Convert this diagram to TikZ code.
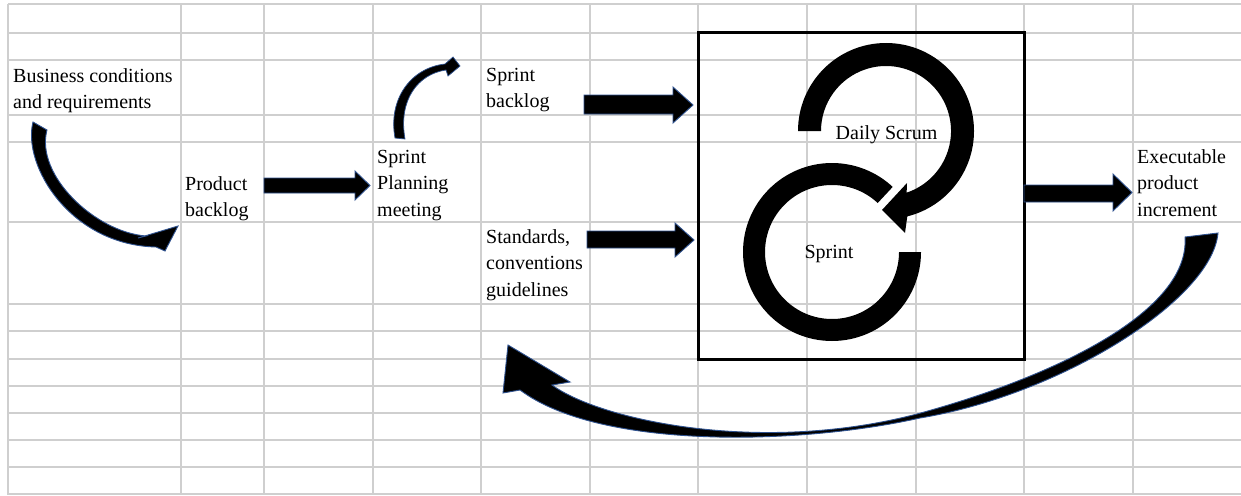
\documentclass[tikz,border=0pt]{standalone}
\usepackage{fontspec}
\setmainfont{Liberation Serif}
\begin{document}
\begin{tikzpicture}[x=1pt,y=-1pt,
  gridline/.style={draw=gray!38,line width=1.4pt},
  lbl/.style={anchor=north west,inner sep=0pt,align=left,font=\fontsize{20}{26.5}\selectfont},
  clbl/.style={anchor=base,inner sep=0pt,font=\fontsize{20}{26.5}\selectfont},
  blockarrow/.style={fill=black,draw={rgb,255:red,47;green,82;blue,143},line width=0.9pt,line join=miter},
  ring/.style={fill=black}]
\useasboundingbox (0,0) rectangle (1241,495);
\fill[white] (0,0) rectangle (1241,495);
% spreadsheet grid
\foreach \gx in {8,181,264,373,481,590,698,807,916,1024,1133}
  \draw[gridline] (\gx,4) -- (\gx,495);
\foreach \gy in {4,33,60,115,142,222,304,331,359,386,413,440,467,494}
  \draw[gridline] (8,\gy) -- (1241,\gy);
% sprint box
\draw[line width=3pt] (698,33) rectangle (1024,359);
% Daily Scrum ring with arrow head
\fill[ring] ([shift={(886,131)}]180:88) arc[start angle=180,end angle=436,radius=88]
  -- (905,233) -- (882,210) -- (907,183)
  -- ([shift={(886,131)}]431.5:65) arc[start angle=431.5,end angle=180,radius=65] -- cycle;
% Sprint ring
\fill[ring] ([shift={(832,252)}]0:89) arc[start angle=0,end angle=313,radius=89]
  -- ([shift={(832,252)}]313:67) arc[start angle=313,end angle=0,radius=67] -- cycle;
% texts
\node[lbl] (bus) at (13,68) {Business conditions\\and requirements};
\node[lbl] (pb) at (185,176) {Product\\backlog};
\node[lbl] (spm) at (377,150) {Sprint\\Planning\\meeting};
\node[lbl] (sb) at (486,68) {Sprint\\backlog};
\node[lbl] (std) at (486,229) {Standards,\\conventions\\guidelines};
\node[lbl] (exe) at (1137,149) {Executable\\product\\increment};
\node[clbl] (ds) at (886.5,139) {Daily Scrum};
\node[clbl] (sp) at (829,258) {Sprint};
% straight block arrows
\draw[blockarrow] (264,178) -- (355,178) -- (355,171) -- (370,185.5) -- (355,200) -- (355,193) -- (264,193) -- cycle;
\draw[blockarrow] (584,95) -- (673,95) -- (673,87) -- (693,105) -- (673,123) -- (673,114) -- (584,114) -- cycle;
\draw[blockarrow] (587,231) -- (675,231) -- (675,223) -- (694,240) -- (675,257) -- (675,248) -- (587,248) -- cycle;
\draw[blockarrow] (1024,185) -- (1113,185) -- (1113,174) -- (1132,192.5) -- (1113,211) -- (1113,202) -- (1024,202) -- cycle;
% curved arrow: business -> product backlog
\draw[blockarrow] (33,122) .. controls (22,165) and (70,245) .. (156,247) -- (165,251) -- (178,226) -- (138,238) -- (146,236) .. controls (95,232) and (35,175) .. (47,130) -- cycle;
% curved arrow: planning -> sprint backlog
\draw[blockarrow,line width=0.7pt] (395,138) .. controls (388,100) and (410,68) .. (445,64) -- (453,57) -- (460,66) -- (448,76) -- (446,70) .. controls (418,74) and (398,100) .. (405,139) -- cycle;
% big curved arrow: increment -> back
\draw[blockarrow] (1218,233) .. controls (1212,300) and (1060,395) .. (920,418) .. controls (800,445) and (600,450) .. (520,390) -- (503,393) -- (508,345) -- (570,382) -- (552,385) .. controls (600,420) and (760,455) .. (917,414) .. controls (1060,375) and (1190,310) .. (1185,237) -- cycle;
\end{tikzpicture}
\end{document}
